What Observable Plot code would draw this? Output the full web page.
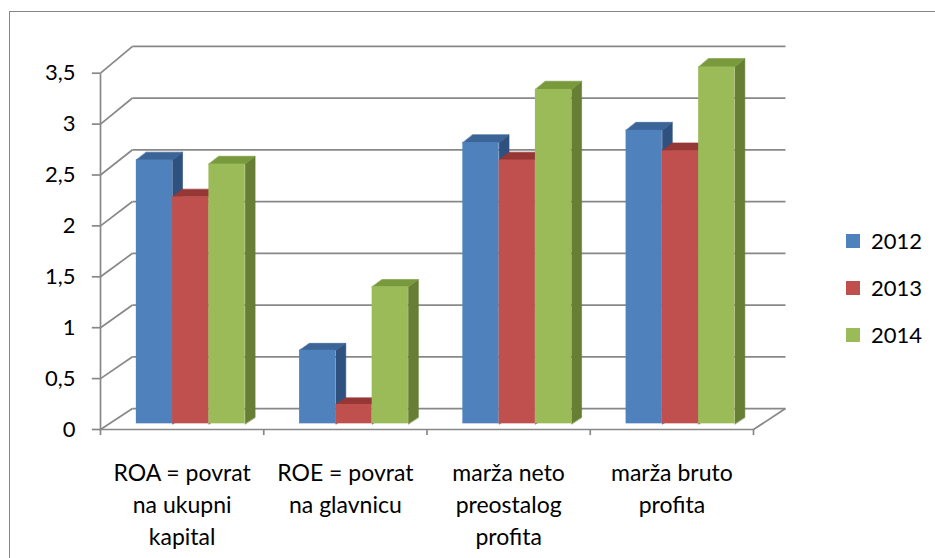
<!DOCTYPE html>
<html>
<head>
<meta charset="utf-8">
<script src="https://cdn.jsdelivr.net/npm/d3@7"></script>
<script src="https://cdn.jsdelivr.net/npm/@observablehq/plot@0.6"></script>
<style>
  html, body { margin: 0; padding: 0; background: #fff; }
  #wrap { position: relative; width: 935px; height: 558px; overflow: hidden; font-family: Lato, "Liberation Sans", sans-serif; }
  #border { position: absolute; left: 9px; top: 11px; width: 1000px; height: 700px; border: 1.5px solid #878787; box-sizing: border-box; }
  #chart { position: absolute; left: 0; top: 0; }
  .leg { position: absolute; left: 846px; display: flex; align-items: center; font-size: 22px; color: #000; line-height: 1; }
  .leg span.sw { width: 14px; height: 14px; display: inline-block; margin-right: 11px; }
</style>
</head>
<body>
<div id="wrap">
  <div id="border"></div>
  <div id="chart"></div>
  <div id="legend"></div>
</div>
<script>
// ---- data ----
const categories = [
  "ROA = povrat\nna ukupni\nkapital",
  "ROE = povrat\nna glavnicu",
  "marža neto\npreostalog\nprofita",
  "marža bruto\nprofita"
];
const years = ["2012", "2013", "2014"];
const values2012 = [2.58, 0.72, 2.75, 2.87];
const values2013 = [2.22, 0.19, 2.58, 2.67];
const values2014 = [2.54, 1.34, 3.27, 3.49];
const yTicks = [0, 0.5, 1, 1.5, 2, 2.5, 3, 3.5];

// ---- styles ----
const frontColors = ["#4F81BD", "#C0504D", "#9BBB59"];
const topColors   = ["#3B6497", "#953735", "#789A3D"];
const sideColors  = ["#2F5180", "#7E2E2C", "#667F34"];
const gridColor = "#888888";
const GAP = 1.5;            // Excel gap width 150%
const D0 = 0.27, D1 = 0.58; // bar depth range (fraction of floor depth)

// oblique 3D projection expressed in data units
function proj(u, v, d) {
  return { x: u + d * 0.196, y: v + d * (0.206 + 0.0167 * v) };
}

const series = [values2012, values2013, values2014];
const nCat = categories.length;
const yMax = yTicks[yTicks.length - 1];

const polys = [];
const fronts = [];
categories.forEach((c, i) => {
  series.forEach((vals, j) => {
    const v = vals[i];
    const u0 = i + (GAP / 2 + j) / (series.length + GAP);
    const u1 = i + (GAP / 2 + j + 1) / (series.length + GAP);
    const side = [proj(u1, 0, D0), proj(u1, v, D0), proj(u1, v, D1), proj(u1, 0, D1)];
    const top = [proj(u0, v, D0), proj(u1, v, D0), proj(u1, v, D1), proj(u0, v, D1)];
    side.forEach(p => polys.push({ id: `s${i}-${j}`, x: p.x, y: p.y, color: sideColors[j] }));
    top.forEach(p => polys.push({ id: `t${i}-${j}`, x: p.x, y: p.y, color: topColors[j] }));
    const a = proj(u0, 0, D0), b = proj(u1, v, D0);
    fronts.push({ x1: a.x, x2: b.x, y1: a.y, y2: b.y, color: frontColors[j] });
  });
});

const boundaries = d3.range(nCat + 1);

const chart = Plot.plot({
  width: 935,
  height: 558,
  marginLeft: 100,
  marginRight: 182,
  marginTop: 72.7,
  marginBottom: 129,
  x: { domain: [0, nCat], axis: null },
  y: { domain: [0, yMax], axis: null },
  color: { type: "identity" },
  style: { fontFamily: "Lato, 'Liberation Sans', sans-serif", fontSize: "22px", background: "transparent", overflow: "visible" },
  marks: [
    // back wall gridlines
    Plot.link(yTicks, {
      x1: v => proj(0, v, 1).x, y1: v => proj(0, v, 1).y,
      x2: v => proj(nCat, v, 1).x, y2: v => proj(nCat, v, 1).y,
      stroke: gridColor, strokeWidth: 1.7
    }),
    // side wall diagonals
    Plot.link(yTicks, {
      x1: v => proj(0, v, 0).x, y1: v => proj(0, v, 0).y,
      x2: v => proj(0, v, 1).x, y2: v => proj(0, v, 1).y,
      stroke: gridColor, strokeWidth: 1.7
    }),
    // floor right edge
    Plot.link([0], {
      x1: () => proj(nCat, 0, 0).x, y1: () => proj(nCat, 0, 0).y,
      x2: () => proj(nCat, 0, 1).x, y2: () => proj(nCat, 0, 1).y,
      stroke: gridColor, strokeWidth: 1.7
    }),
    // floor front edge (category axis)
    Plot.link([0], {
      x1: () => 0, y1: () => 0, x2: () => nCat, y2: () => 0,
      stroke: gridColor, strokeWidth: 1.7
    }),
    // category tick marks
    Plot.ruleX(boundaries, { x: d => d, y1: () => 0, y2: () => -0.06, stroke: gridColor, strokeWidth: 1.7 }),
    // value axis line
    Plot.link([0], {
      x1: () => 0, y1: () => 0, x2: () => 0, y2: () => yMax,
      stroke: gridColor, strokeWidth: 1.7
    }),
    // value tick marks
    Plot.ruleY(yTicks, { y: d => d, x1: () => -0.05, x2: () => 0, stroke: gridColor, strokeWidth: 1.7 }),
    // value tick labels
    Plot.text(yTicks, {
      x: () => 0, y: d => d, text: d => String(d).replace(".", ","),
      textAnchor: "end", dx: -25, fontSize: 22, fill: "#000"
    }),
    // bars: side and top faces
    Plot.line(polys, {
      x: "x", y: "y", z: "id", fill: "color", stroke: "color", strokeWidth: 0.6, curve: "linear-closed"
    }),
    // bars: front faces
    Plot.rect(fronts, { x1: "x1", x2: "x2", y1: "y1", y2: "y2", fill: "color" }),
    // category labels
    Plot.text(categories, {
      x: (d, i) => i + 0.5, y: () => 0, text: d => d,
      lineAnchor: "top", lineHeight: 1.38, dy: 29, fontSize: 23, fill: "#000"
    })
  ]
});
document.getElementById("chart").appendChild(chart);

// legend
const legend = document.getElementById("legend");
const legTops = [230, 277, 324];
years.forEach((y, j) => {
  const el = document.createElement("div");
  el.className = "leg";
  el.style.top = legTops[j] + "px";
  el.innerHTML = `<span class="sw" style="background:${frontColors[j]}"></span><span>${y}</span>`;
  legend.appendChild(el);
});
</script>
</body>
</html>
